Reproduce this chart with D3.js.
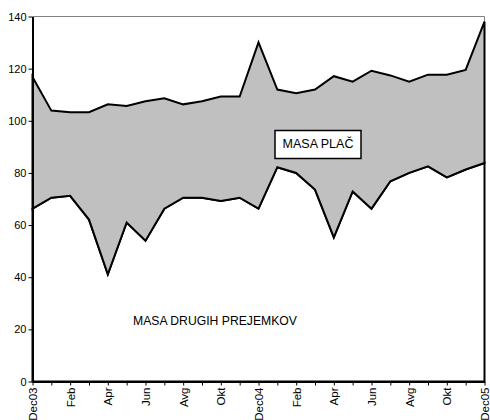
<!DOCTYPE html>
<meta charset="utf-8">
<style>
body { margin: 0; background: #fff; }
svg { font-family: "Liberation Sans", Arial, sans-serif; }
.axis path, .axis line { stroke: #000; }
.axis text { font-size: 11px; fill: #000; }
.x.axis text { font-size: 11.5px; }
</style>
<body>
<script src="https://cdn.jsdelivr.net/npm/d3@7"></script>
<div id="chart"></div>
<script>
// months Dec03 .. Dec05
var months = ["Dec03","Jan","Feb","Mar","Apr","Maj","Jun","Jul","Avg","Sep","Okt","Nov",
              "Dec04","Jan","Feb","Mar","Apr","Maj","Jun","Jul","Avg","Sep","Okt","Nov","Dec05"];
var masaDrugih = [66.3,70.5,71.2,62.1,41.1,61.0,54.0,66.3,70.5,70.5,69.2,70.5,
                  66.3,82.2,80.0,73.6,55.3,72.9,66.3,76.8,80.0,82.5,78.3,81.3,83.8];
var masaPlac = [50.5,33.4,32.1,41.2,65.2,44.7,53.5,42.3,35.8,37.0,40.1,38.8,
                63.8,29.8,30.6,38.4,61.8,42.1,52.9,40.6,35.0,35.2,39.4,38.2,54.2];
var yTicks = [0,20,40,60,80,100,120,140];

var margin = {top: 16.5, right: 5.5, bottom: 38.5, left: 32.5},
    width = 490 - margin.left - margin.right,
    height = 420 - margin.top - margin.bottom;

var svg = d3.select("#chart").append("svg")
    .attr("width", 490)
    .attr("height", 420)
  .append("g")
    .attr("transform", "translate(" + margin.left + "," + margin.top + ")");

// dotted fill
var pat = svg.append("defs").append("pattern")
    .attr("id", "dots")
    .attr("patternUnits", "userSpaceOnUse")
    .attr("width", 2).attr("height", 2);
pat.append("rect").attr("width", 2).attr("height", 2).attr("fill", "#e6e6e6");
pat.append("rect").attr("width", 1).attr("height", 1).attr("fill", "#9a9a9a");
pat.append("rect").attr("x", 1).attr("y", 1).attr("width", 1).attr("height", 1).attr("fill", "#9a9a9a");

var x = d3.scalePoint()
    .domain(d3.range(months.length))
    .range([0, width]);

var y = d3.scaleLinear()
    .domain([0, 140])
    .range([height, 0]);

var rows = months.map(function(m, i) {
  return {i: i, drugi: masaDrugih[i], place: masaPlac[i]};
});
var series = d3.stack().keys(["drugi", "place"])(rows);

// plot border
svg.append("path")
    .attr("d", "M0,0H" + width + "V" + height)
    .attr("fill", "none")
    .attr("stroke", "#808080")
    .attr("stroke-width", 1);

var area = d3.area()
    .x(function(d) { return x(d.data.i); })
    .y0(function(d) { return y(d[0]); })
    .y1(function(d) { return y(d[1]); });

svg.selectAll(".layer")
    .data(series)
  .enter().append("path")
    .attr("class", "layer")
    .attr("d", area)
    .attr("fill", function(d, i) { return i == 0 ? "#fff" : "url(#dots)"; })
    .attr("stroke", "#000")
    .attr("stroke-width", 2)
    .attr("stroke-linejoin", "miter");

// y axis
svg.append("g")
    .attr("class", "y axis")
    .call(d3.axisLeft(y).tickValues(yTicks).tickSize(4).tickSizeOuter(0).tickPadding(2))
    .call(function(g) { g.select(".domain").attr("stroke-width", 2); });

// x axis
var xAxis = svg.append("g")
    .attr("class", "x axis")
    .attr("transform", "translate(0," + height + ")")
    .call(d3.axisBottom(x).tickSize(4).tickSizeOuter(0)
      .tickFormat(function(i) { return i % 2 == 0 ? months[i] : ""; }));
xAxis.select(".domain").attr("stroke-width", 2);
xAxis.selectAll("text")
    .attr("transform", "rotate(-90)")
    .attr("text-anchor", "end")
    .attr("x", -6)
    .attr("y", 0)
    .attr("dy", "0.35em");

// labels
var lab = svg.append("g").attr("transform", "translate(" + (318 - margin.left) + "," + (144 - margin.top) + ")");
lab.append("rect")
    .attr("x", -43).attr("y", -13.5)
    .attr("width", 86).attr("height", 28)
    .attr("fill", "#fff")
    .attr("stroke", "#000")
    .attr("stroke-width", 1.5);
lab.append("text")
    .attr("text-anchor", "middle")
    .attr("dy", "0.35em")
    .style("font-size", "12.5px")
    .text("MASA PLAČ");

svg.append("text")
    .attr("x", 215 - margin.left)
    .attr("y", 321 - margin.top)
    .attr("text-anchor", "middle")
    .attr("dy", "0.35em")
    .style("font-size", "12.2px")
    .text("MASA DRUGIH PREJEMKOV");
</script>
</body>
